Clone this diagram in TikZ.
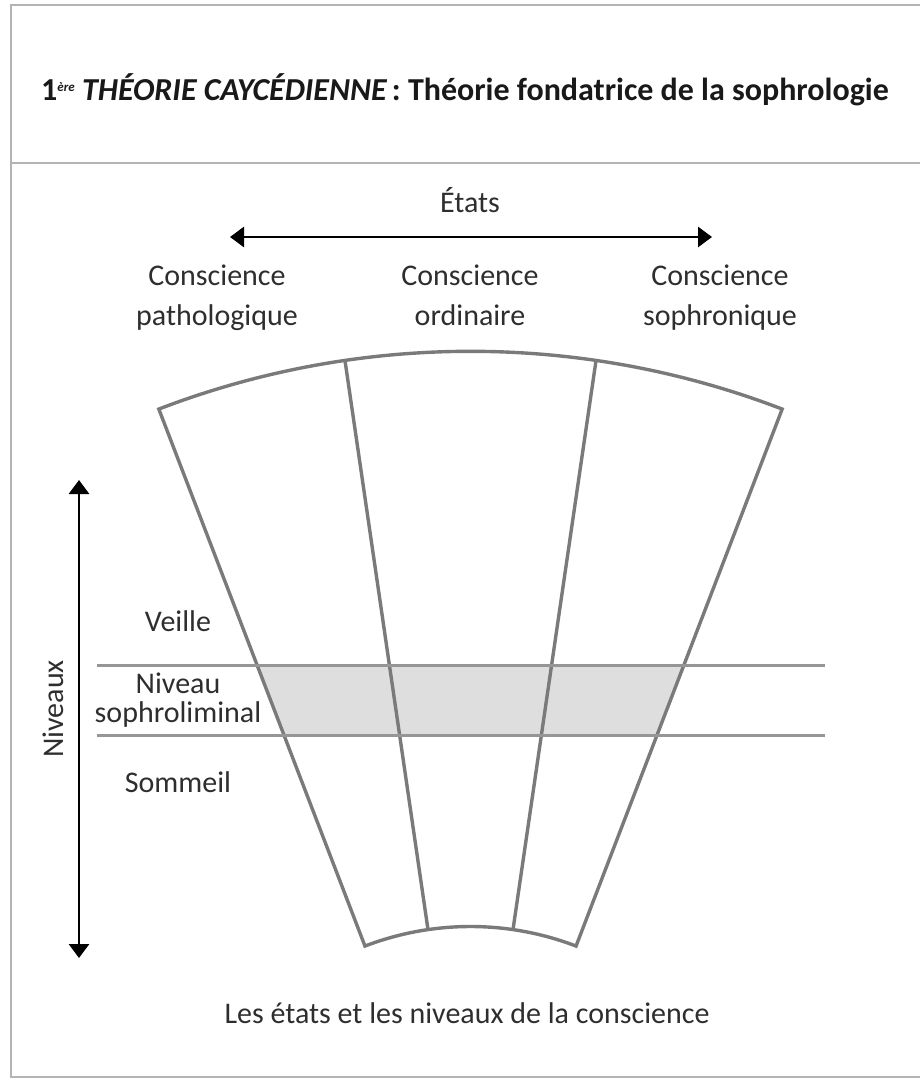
\documentclass[tikz,border=0pt]{standalone}
\usepackage{fontspec}
\setmainfont{Carlito}
\usetikzlibrary{arrows.meta}
\definecolor{framegray}{HTML}{B4B4B4}
\definecolor{fangray}{HTML}{7A7A7A}
\definecolor{bandgray}{HTML}{969696}
\definecolor{bandfill}{HTML}{DEDEDE}
\definecolor{txt}{HTML}{2E2E2E}
\begin{document}
\begin{tikzpicture}[x=1pt,y=1pt,
  framel/.style={draw=framegray,line width=2.5pt},
  fanl/.style={draw=fangray,line width=3.4pt,line join=miter},
  bandl/.style={draw=bandgray,line width=3pt},
  arr/.style={draw=black,line width=2.8pt,{Triangle[length=14pt,width=20pt]}-{Triangle[length=14pt,width=20pt]}},
  lbl/.style={text=txt,font=\fontsize{30}{40}\selectfont,align=center,inner sep=0pt},
  lvl/.style={text=txt,font=\fontsize{30}{29}\selectfont,align=center,inner sep=0pt}]
\useasboundingbox (0,0) rectangle (920,-1079);
% frame
\draw[framel] (920,-5) -- (11,-5) -- (11,-1077) -- (920,-1077);
\draw[framel] (11,-163) -- (920,-163);
% title
\node[inner sep=0pt,text=black!90,font=\fontsize{32}{40}\selectfont\bfseries] (title) at (465,-90)
  {1\raisebox{9pt}{\fontsize{13}{14}\selectfont\itshape ère} {\itshape THÉORIE CAYCÉDIENNE}\,: Théorie fondatrice de la sophrologie};
% fan geometry
\coordinate (C) at (470.5,-1221);
\def\fanpath{([shift={(111:294.5pt)}]C) -- ([shift={(111:869.7pt)}]C) arc[start angle=111,end angle=69,radius=869.7pt] -- ([shift={(69:294.5pt)}]C) arc[start angle=69,end angle=111,radius=294.5pt] -- cycle}
\begin{scope}
  \clip \fanpath;
  \fill[bandfill] (0,-665) rectangle (920,-735);
\end{scope}
\draw[fanl] \fanpath;
\draw[fanl] ([shift={(98.3:294.5pt)}]C) -- ([shift={(98.3:869.7pt)}]C);
\draw[fanl] ([shift={(81.7:294.5pt)}]C) -- ([shift={(81.7:869.7pt)}]C);
% band lines
\coordinate (b1l) at (97,-665); \coordinate (b1r) at (825,-665);
\coordinate (b2l) at (97,-735); \coordinate (b2r) at (825,-735);
\draw[bandl] (b1l) -- (b1r);
\draw[bandl] (b2l) -- (b2r);
% etats arrow
\node[lbl] (etats) at (470,-200) {États};
\coordinate (eL) at (230,-237); \coordinate (eR) at (712,-237);
\draw[arr] (eL) -- (eR);
\node[lbl] (cp) at (217,-297) {\strut Conscience\\\strut pathologique};
\node[lbl] (co) at (470,-297) {\strut Conscience\\\strut ordinaire};
\node[lbl] (cs) at (720,-297) {\strut Conscience\\\strut sophronique};
% niveaux arrow
\coordinate (nT) at (79,-480); \coordinate (nB) at (79,-958);
\draw[arr] (nB) -- (nT);
\node[lbl,rotate=90] (niv) at (53,-709) {Niveaux};
\node[lvl] (veille) at (178,-621) {Veille};
\node[lvl] (soph) at (178,-700) {Niveau\\sophroliminal};
\node[lvl] (somm) at (178,-782) {Sommeil};
% caption
\node[lbl] (cap) at (467,-1013) {Les états et les niveaux de la conscience};
\end{tikzpicture}
\end{document}
